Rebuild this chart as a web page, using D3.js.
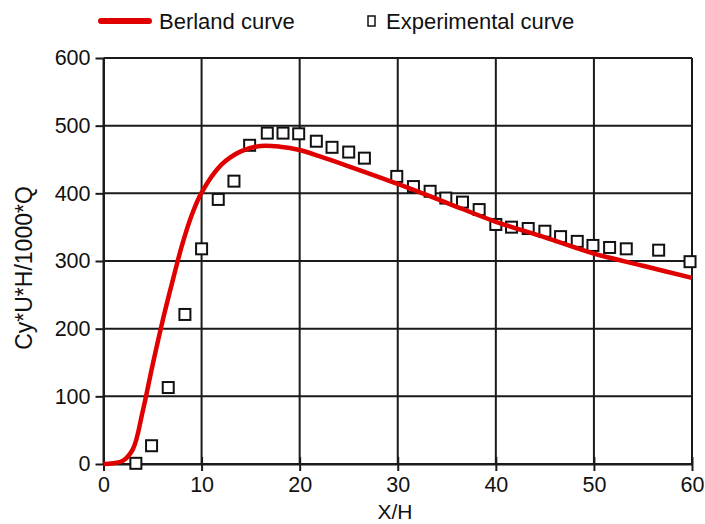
<!DOCTYPE html>
<html><head><meta charset="utf-8">
<script src="https://cdn.jsdelivr.net/npm/d3@7"></script>
<style>body{margin:0;background:#fff;} text{font-family:"Liberation Sans",Arial,sans-serif;}</style>
</head><body>
<svg id="c" width="705" height="524"></svg>
<script>
const berlandX = [0,1,2,3,4,5,6,7,8,9,10,12,14,16,18,20,22,25,30,35,40,45,50,55,60];
const berlandY = [0,1,5,22,78,146,210,268,323,368,401,442,462,470,469,464,455,440,414,386,358,335,311,293,275];
const expX = [3.3,4.9,6.6,8.3,10.0,11.7,13.3,14.9,16.7,18.3,19.9,21.7,23.3,25.0,26.6,29.9,31.6,33.3,34.9,36.6,38.3,40.0,41.6,43.3,45.0,46.6,48.3,49.9,51.6,53.3,56.6,59.8];
const expY = [1,27,113,221,318,391,418,471,489,489,488,477,468,461,452,425,410,403,393,387,376,354,350,348,344,336,329,323,320,318,316,299];
const xTicks = [0,10,20,30,40,50,60];
const yTicks = [0,100,200,300,400,500,600];

const svg = d3.select("#c");
const x = d3.scaleLinear().domain([0,60]).range([103.5,692]);
const y = d3.scaleLinear().domain([0,600]).range([464,58]);

// grid
const g = svg.append("g");
g.selectAll(".vx").data(xTicks).join("line")
  .attr("x1",d=>x(d)).attr("x2",d=>x(d)).attr("y1",y(0)).attr("y2",y(600))
  .attr("stroke","#1a1a1a").attr("stroke-width",2);
g.selectAll(".hy").data(yTicks).join("line")
  .attr("x1",x(0)).attr("x2",x(60)).attr("y1",d=>y(d)).attr("y2",d=>y(d))
  .attr("stroke","#1a1a1a").attr("stroke-width",2);

// axes
const xa = svg.append("g").attr("transform",`translate(0,${y(0)})`)
  .call(d3.axisBottom(x).tickValues(xTicks).tickSize(7).tickPadding(6).tickSizeOuter(0));
const ya = svg.append("g").attr("transform",`translate(${x(0)},0)`)
  .call(d3.axisLeft(y).tickValues(yTicks).tickSize(8).tickPadding(5).tickSizeOuter(0));
[xa,ya].forEach(a=>{
  a.select(".domain").attr("stroke","#1a1a1a").attr("stroke-width",2);
  a.selectAll(".tick line").attr("stroke","#1a1a1a").attr("stroke-width",2);
  a.selectAll("text").attr("font-size",21.5).attr("fill","#111").attr("font-family","Liberation Sans, Arial, sans-serif");
});
xa.selectAll(".tick line").attr("y1",-7);

// experimental squares
svg.append("g").selectAll("rect").data(expX.map((d,i)=>[d,expY[i]])).join("rect")
  .attr("x",d=>x(d[0])-5.5).attr("y",d=>y(d[1])-5.5).attr("width",11).attr("height",11)
  .attr("fill","#fff").attr("stroke","#111").attr("stroke-width",2);

// Berland curve
const line = d3.line().x(d=>x(d[0])).y(d=>y(d[1])).curve(d3.curveCatmullRom.alpha(0.5));
svg.append("path").datum(berlandX.map((d,i)=>[d,berlandY[i]]))
  .attr("d",line).attr("fill","none").attr("stroke","#e00000").attr("stroke-width",4.5);

// titles
svg.append("text").attr("x",395).attr("y",519).attr("text-anchor","middle")
  .attr("font-size",21).attr("fill","#111").text("X/H");
svg.append("text").attr("transform","translate(32,268) rotate(-90)").attr("text-anchor","middle")
  .attr("font-size",23).attr("fill","#111").text("Cy*U*H/1000*Q");

// legend
svg.append("line").attr("x1",101).attr("x2",149).attr("y1",21).attr("y2",21)
  .attr("stroke","#e00000").attr("stroke-width",6).attr("stroke-linecap","round");
svg.append("text").attr("x",159).attr("y",29).attr("font-size",22).attr("fill","#111").text("Berland curve");
svg.append("rect").attr("x",368).attr("y",16).attr("width",7).attr("height",10)
  .attr("fill","#fff").attr("stroke","#111").attr("stroke-width",1.5);
svg.append("text").attr("x",386).attr("y",29).attr("font-size",22).attr("fill","#111").text("Experimental curve");
</script>
</body></html>
